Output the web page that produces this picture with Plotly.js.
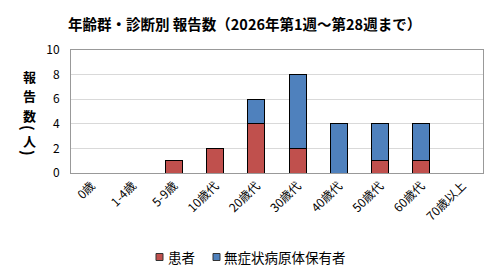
<!DOCTYPE html>
<html><head><meta charset="utf-8">
<script src="https://cdn.plot.ly/plotly-3.0.1.min.js"></script>
<style>html,body{margin:0;padding:0;background:#fff}#c{width:500px;height:279px}</style>
</head><body><div id="c"></div>
<script>
const categories = ["0歳","1-4歳","5-9歳","10歳代","20歳代","30歳代","40歳代","50歳代","60歳代","70歳以上"];
const patients = [0,0,1,2,4,2,0,1,1,0];
const carriers = [0,0,0,0,2,6,4,3,3,0];
const seriesNames = ["患者","無症状病原体保有者"];
const seriesColors = ["#C0504D","#4F81BD"];
const titleText = "年齢群・診断別 報告数（2026年第1週～第28週まで）";
// y-axis title "報告数(人)" written vertically; parentheses are rotated
const yTitleChars = ["報","告","数","(","人",")"];

const F = '"Noto Sans CJK JP", "Noto Sans", sans-serif';
const W = 500, H = 279, ML = 71, MR = 17, MT = 50, MB = 106;
const PW = W - ML - MR, PH = H - MT - MB;
const px = x => (x - ML) / PW;
const py = y => (H - MB - y) / PH;

const traces = [patients, carriers].map((vals, i) => ({
  type:'bar', name:seriesNames[i], x:categories, y:vals, showlegend:false,
  marker:{color:seriesColors[i], line:{color:'#000', width:1}}
}));

const yTitlePos = [76, 95.5, 115, 128, 140.5, 153];
const annotations = yTitleChars.map((ch, i) => {
  const paren = (ch === '(' || ch === ')');
  return {
    xref:'paper', yref:'paper', x:px(29), y:py(yTitlePos[i]), xanchor:'center', yanchor:'middle',
    text:ch, showarrow:false, textangle:paren ? 90 : 0, borderpad:0,
    font:{family:F, size:paren ? 15 : 13, weight:'bold', color:'#000'}
  };
});
// custom legend
const legSq = [156, 213], legTx = [166, 222], legY = 257;
const shapes = [];
seriesNames.forEach((n, i) => {
  shapes.push({type:'rect', xref:'paper', yref:'paper', x0:px(legSq[i]), x1:px(legSq[i]+7),
    y0:py(legY+3.5), y1:py(legY-3.5), fillcolor:seriesColors[i], line:{color:'#333', width:1}});
  annotations.push({xref:'paper', yref:'paper', x:px(legTx[i]), y:py(legY), xanchor:'left', yanchor:'middle',
    text:n, showarrow:false, font:{family:F, size:13.5, color:'#000'}});
});

const layout = {
  width:W, height:H, barmode:'stack', bargap:0.59,
  margin:{l:ML, r:MR, t:MT, b:MB},
  paper_bgcolor:'#fff', plot_bgcolor:'#fff',
  font:{family:F, size:12, color:'#000'},
  title:{text:titleText, font:{family:F, size:14.5, color:'#000', weight:'bold'},
         xref:'container', x:68/W, xanchor:'left', yref:'container', y:1-25/H, yanchor:'middle'},
  xaxis:{tickangle:-45, tickfont:{size:12}, showline:true, linecolor:'#999', mirror:true,
         ticks:'', showgrid:false},
  yaxis:{range:[0,10], dtick:2, tickfont:{size:12}, gridcolor:'#d9d9d9', showline:true,
         linecolor:'#999', mirror:true, ticks:'', ticklabelstandoff:8, zeroline:false},
  showlegend:false,
  shapes, annotations
};
Plotly.newPlot('c', traces, layout, {displayModeBar:false, staticPlot:true});
</script></body></html>
